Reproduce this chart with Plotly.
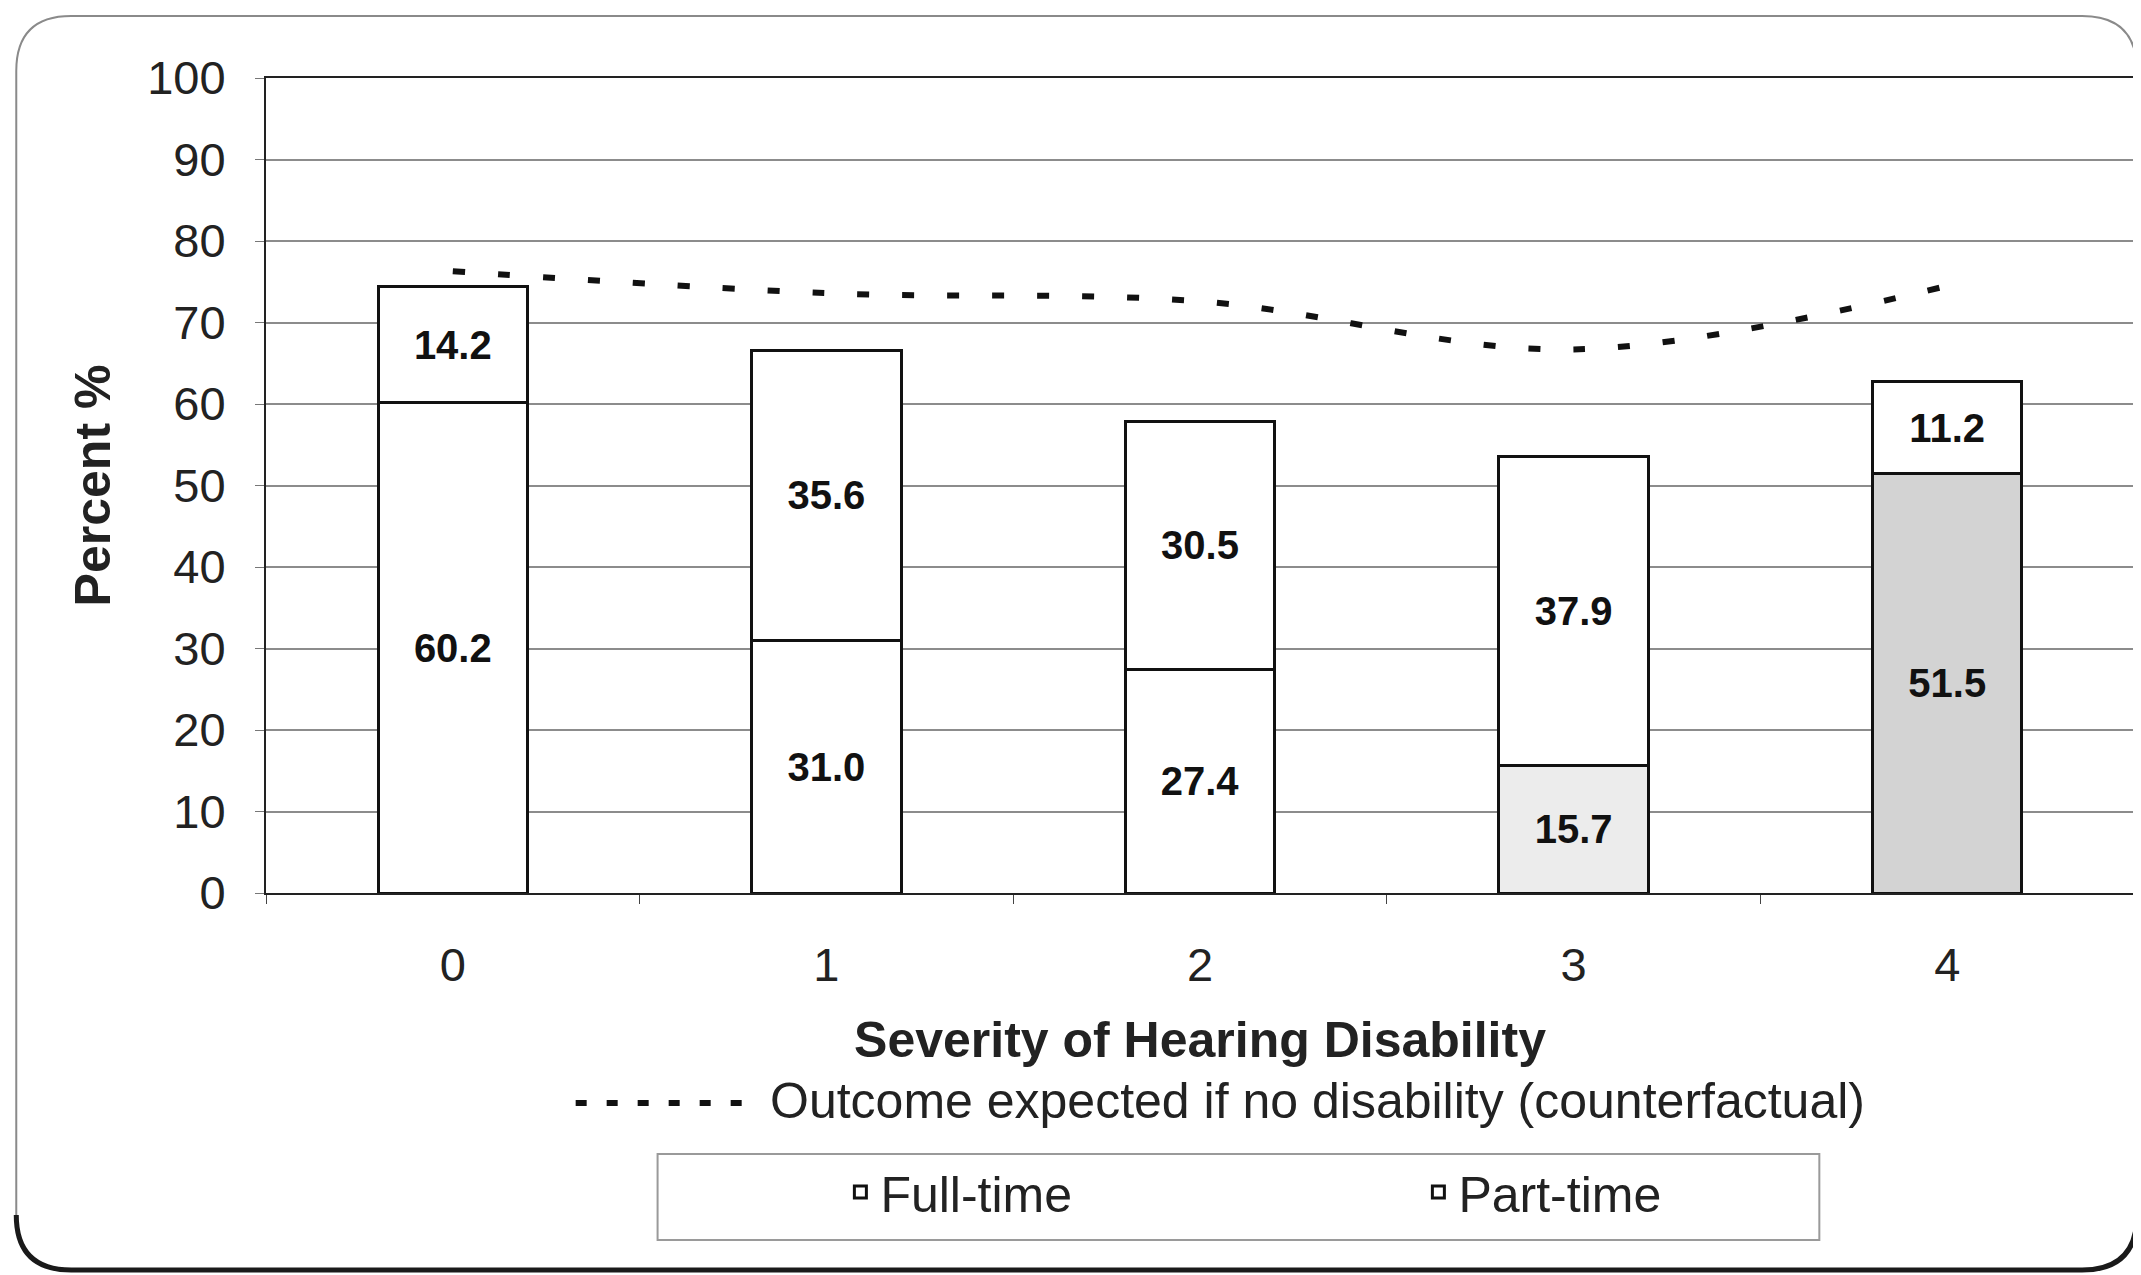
import plotly.graph_objects as go

# ---- data ----
categories = ["0", "1", "2", "3", "4"]
full_time = [60.2, 31.0, 27.4, 15.7, 51.5]
part_time = [14.2, 35.6, 30.5, 37.9, 11.2]
counterfactual = [76.3, 73.6, 72.6, 66.7, 74.5]
full_time_fill = ["#ffffff", "#ffffff", "#ffffff", "#ececec", "#d3d3d3"]
y_ticks = [0, 10, 20, 30, 40, 50, 60, 70, 80, 90, 100]
line_label = "Outcome expected if no disability (counterfactual)"

FONT = "Liberation Sans, Arial, sans-serif"
OFF = 8  # page body margin
W, H = 2133, 1267
ML, MR, MT, MB = 258, 5, 70, 382
PW = W - ML - MR
PH = H - MT - MB


def px(sx):
    return (sx - OFF - ML) / PW


def py(sy):
    return (H - MB - (sy - OFF)) / PH


def rounded_path(x0, y0, x1, y1, r):
    pts = [
        ("M", [(x0 + r, y0)]),
        ("L", [(x1 - r, y0)]),
        ("Q", [(x1, y0), (x1, y0 + r)]),
        ("L", [(x1, y1 - r)]),
        ("Q", [(x1, y1), (x1 - r, y1)]),
        ("L", [(x0 + r, y1)]),
        ("Q", [(x0, y1), (x0, y1 - r)]),
        ("L", [(x0, y0 + r)]),
        ("Q", [(x0, y0), (x0 + r, y0)]),
    ]
    s = ""
    for cmd, ps in pts:
        s += cmd + " ".join(f"{px(a):.5f},{py(b):.5f}" for a, b in ps) + " "
    return s + "Z"


def shadow_path(x0, y0, x1, y1, r):
    s = f"M{px(x0):.5f},{py(y1 - r):.5f} "
    s += f"Q{px(x0):.5f},{py(y1):.5f} {px(x0 + r):.5f},{py(y1):.5f} "
    s += f"L{px(x1 - r):.5f},{py(y1):.5f} "
    s += f"Q{px(x1):.5f},{py(y1):.5f} {px(x1):.5f},{py(y1 - r):.5f} "
    s += f"L{px(x1):.5f},{py(y0 + r):.5f}"
    return s


fig = go.Figure()

label_font = dict(family=FONT, size=40, color="#111111", weight="bold")

fig.add_trace(go.Bar(
    x=categories, y=full_time, name="Full-time",
    marker=dict(color=full_time_fill, line=dict(color="#111111", width=3)),
    texttemplate="%{y:.1f}", textposition="inside", insidetextanchor="middle",
    constraintext="none", textangle=0, textfont=label_font,
    legend="legend2", width=0.4,
))
fig.add_trace(go.Bar(
    x=categories, y=part_time, name="Part-time",
    marker=dict(color="#ffffff", line=dict(color="#111111", width=3)),
    texttemplate="%{y:.1f}", textposition="inside", insidetextanchor="middle",
    constraintext="none", textangle=0, textfont=label_font,
    legend="legend2", width=0.4,
))
fig.add_trace(go.Scatter(
    x=categories, y=counterfactual, mode="lines", name=line_label,
    line=dict(color="#111111", width=6, dash="12px,33px", shape="spline", smoothing=1),
    showlegend=False,
))

frame = rounded_path(16, 16, 2139, 1270, 55)
shadow = shadow_path(16, 16, 2139, 1270, 55)

fig.update_layout(
    width=W, height=H,
    margin=dict(l=ML, r=MR, t=MT, b=MB),
    paper_bgcolor="white", plot_bgcolor="white",
    barmode="stack",
    font=dict(family=FONT, color="#222222"),
    showlegend=True,
    legend2=dict(
        orientation="h", x=px(841), y=py(1192), xanchor="left", yanchor="middle",
        font=dict(family=FONT, size=50, color="#222222"),
        bgcolor="rgba(0,0,0,0)", borderwidth=0, traceorder="normal",
        entrywidth=533, entrywidthmode="pixels",
    ),
    xaxis=dict(
        type="category", range=[-0.5, 4.5],
        showline=True, linecolor="#222222", linewidth=2, mirror=True,
        ticks="outside", tickson="boundaries", ticklen=9, tickcolor="#444444",
        tickfont=dict(family=FONT, size=47, color="#222222"),
        ticklabelstandoff=30,
        title=dict(text="Severity of Hearing Disability", standoff=32,
                   font=dict(family=FONT, size=50, color="#222222", weight="bold")),
        showgrid=False, fixedrange=True,
    ),
    yaxis=dict(
        range=[0, 100], tickvals=y_ticks,
        showline=True, linecolor="#222222", linewidth=2, mirror=True,
        ticks="outside", ticklen=9, tickcolor="#777777",
        tickfont=dict(family=FONT, size=47, color="#222222"),
        ticklabelstandoff=20,
        showgrid=True, gridcolor="#8c8c8c", gridwidth=1.5,
        title=dict(text="Percent %", standoff=21,
                   font=dict(family=FONT, size=50, color="#222222", weight="bold")),
        zeroline=False, fixedrange=True,
    ),
    annotations=[
        dict(text=line_label, xref="paper", yref="paper",
             x=px(769), y=py(1101), xanchor="left", yanchor="middle",
             showarrow=False, font=dict(family=FONT, size=50, color="#222222")),
    ],
    shapes=[
        dict(type="path", path=frame, xref="paper", yref="paper",
             line=dict(color="#8a8a8a", width=2), fillcolor="rgba(0,0,0,0)", layer="below"),
        dict(type="path", path=shadow, xref="paper", yref="paper",
             line=dict(color="#1a1a1a", width=5), fillcolor="rgba(0,0,0,0)", layer="below"),
        dict(type="rect", xref="paper", yref="paper",
             x0=px(658), x1=px(1821), y0=py(1240), y1=py(1154),
             line=dict(color="#9a9a9a", width=2), fillcolor="rgba(0,0,0,0)"),
        dict(type="line", xref="paper", yref="paper",
             x0=px(576), x1=px(745), y0=py(1103), y1=py(1103),
             line=dict(color="#111111", width=6, dash="11px,20px")),
    ],
)

fig.write_html("out.html")
